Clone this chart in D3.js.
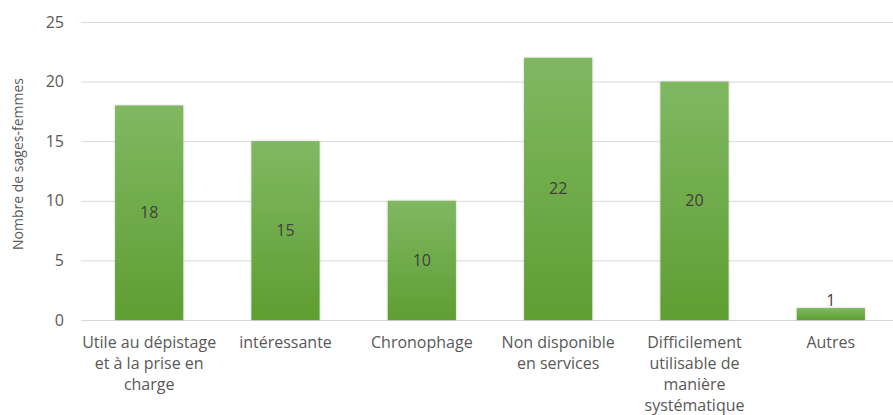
<!DOCTYPE html>
<html><head><meta charset="utf-8">
<script src="https://cdn.jsdelivr.net/npm/d3@7"></script>
<style>body{margin:0;background:#fff;} svg{display:block;font-family:"Open Sans",Calibri,sans-serif;}</style>
</head><body><svg id="c" width="893" height="415"></svg>
<script>
const categories = [["Utile au dépistage","et à la prise en","charge"],["intéressante"],["Chronophage"],["Non disponible","en services"],["Difficilement","utilisable de","manière","systématique"],["Autres"]];
const values = [18, 15, 10, 22, 20, 1];
const yTicks = [0, 5, 10, 15, 20, 25];
const yTitle = "Nombre de sages-femmes";

const svg = d3.select("#c");
const x = d3.scaleBand().domain(d3.range(values.length)).range([81, 899]).paddingInner(0.5).paddingOuter(0.25);
const y = d3.scaleLinear().domain([0, 25]).range([320, 22]);

const defs = svg.append("defs");
const g = defs.append("linearGradient").attr("id","gr").attr("x1",0).attr("x2",0).attr("y1",0).attr("y2",1);
g.append("stop").attr("offset","0%").attr("stop-color","#80b862");
g.append("stop").attr("offset","100%").attr("stop-color","#5f9e32");
const f = defs.append("filter").attr("id","sh").attr("x","-20%").attr("y","-20%").attr("width","140%").attr("height","140%");
f.append("feDropShadow").attr("dx",0).attr("dy",0).attr("stdDeviation",1.2).attr("flood-color","#000").attr("flood-opacity",0.25);

// grid
svg.append("g").selectAll("line").data(yTicks).join("line")
  .attr("x1",81).attr("x2",893).attr("y1",d=>y(d)+0.5).attr("y2",d=>y(d)+0.5)
  .attr("stroke","#d9d9d9").attr("stroke-width",1);

// y tick labels
svg.append("g").selectAll("text").data(yTicks).join("text")
  .attr("x",64).attr("y",d=>y(d)).attr("dy","0.35em").attr("text-anchor","end")
  .attr("font-size",16).attr("fill","#595959").text(d=>d);

// y title
svg.append("text").attr("transform","translate(18,164) rotate(-90)").attr("text-anchor","middle")
  .attr("dy","0.35em").attr("font-size",14).attr("fill","#595959").text(yTitle);

// bars
svg.append("g").selectAll("rect").data(values).join("rect")
  .attr("x",(d,i)=>x(i)).attr("width",x.bandwidth())
  .attr("y",d=>y(d)).attr("height",d=>y(0)-y(d))
  .attr("fill","url(#gr)").attr("filter","url(#sh)");

// value labels
svg.append("g").selectAll("text").data(values).join("text")
  .attr("x",(d,i)=>x(i)+x.bandwidth()/2)
  .attr("y",d=> (y(0)-y(d))>20 ? (y(d)+y(0))/2 : y(d)-8)
  .attr("dy","0.35em").attr("text-anchor","middle")
  .attr("font-size",16).attr("fill","#404040").text(d=>d);

// category labels
const cl = svg.append("g").selectAll("text").data(categories).join("text")
  .attr("x",(d,i)=>x(i)+x.bandwidth()/2).attr("y",348)
  .attr("text-anchor","middle").attr("font-size",16).attr("fill","#595959");
cl.each(function(lines,i){
  d3.select(this).selectAll("tspan").data(lines).join("tspan")
    .attr("x",x(i)+x.bandwidth()/2).attr("dy",(d,j)=>j?21:0).text(d=>d);
});
</script></body></html>
